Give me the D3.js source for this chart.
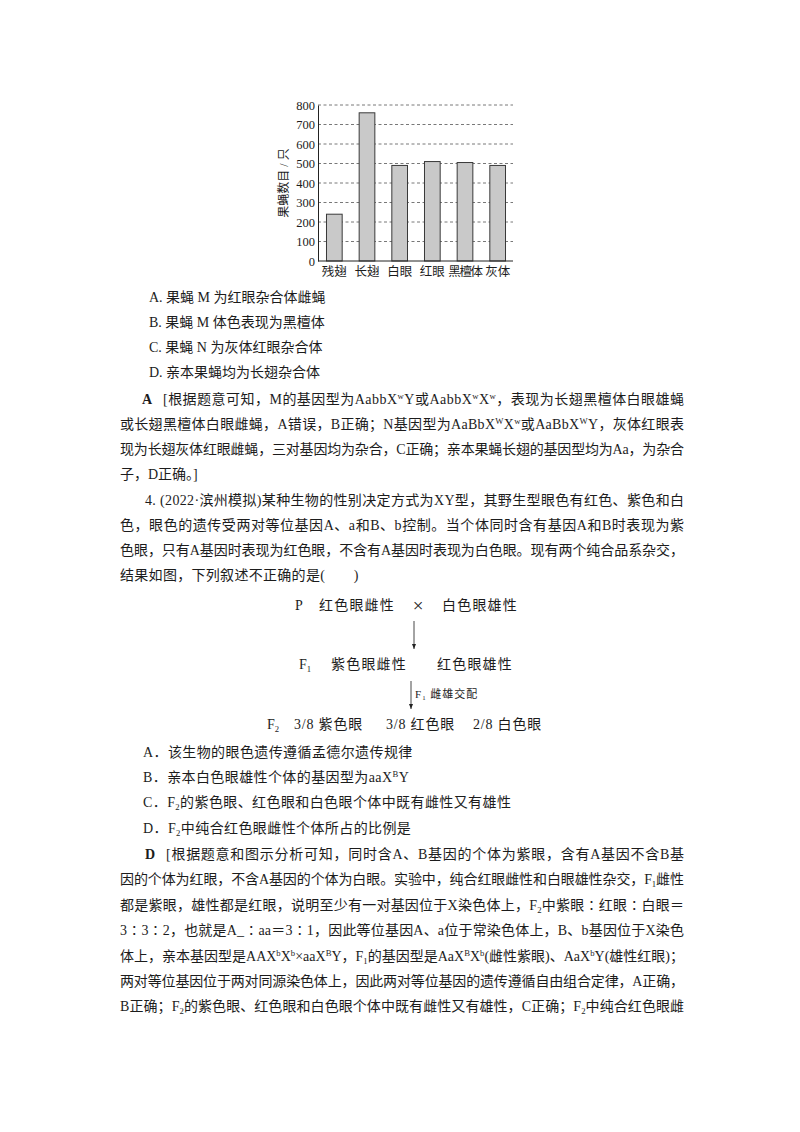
<!DOCTYPE html>
<html><head><meta charset="utf-8">
<script src="https://cdn.jsdelivr.net/npm/d3@7"></script>
<style>html,body{margin:0;padding:0;background:#fff}</style>
</head><body>
<svg id="page" width="800" height="1132"></svg>
<script>
// ---------- chart data ----------
const categories = ["残翅","长翅","白眼","红眼","黑檀体","灰体"];
const counts = [240, 760, 490, 510, 505, 490];
const yTicks = [0,100,200,300,400,500,600,700,800];
const yTitle = "果蝇数目 / 只";

// ---------- page text (markup: ^{sup} _{sub} **bold**) ----------
const optionsQ3 = [
  "A.  果蝇 M 为红眼杂合体雌蝇",
  "B. 果蝇 M 体色表现为黑檀体",
  "C.  果蝇 N 为灰体红眼杂合体",
  "D.  亲本果蝇均为长翅杂合体"
];
const answerQ3 = [
  "[根据题意可知，M的基因型为AabbX^{w}Y或AabbX^{w}X^{w}，表现为长翅黑檀体白眼雄蝇",
  "或长翅黑檀体白眼雌蝇，A错误，B正确；N基因型为AaBbX^{W}X^{w}或AaBbX^{W}Y，灰体红眼表",
  "现为长翅灰体红眼雌蝇，三对基因均为杂合，C正确；亲本果蝇长翅的基因型均为Aa，为杂合",
  "子，D正确。]"
];
const questionQ4 = [
  "4. (2022·滨州模拟)某种生物的性别决定方式为XY型，其野生型眼色有红色、紫色和白",
  "色，眼色的遗传受两对等位基因A、a和B、b控制。当个体同时含有基因A和B时表现为紫",
  "色眼，只有A基因时表现为红色眼，不含有A基因时表现为白色眼。现有两个纯合品系杂交，",
  "结果如图，下列叙述不正确的是(　　)"
];
const optionsQ4 = [
  "A．该生物的眼色遗传遵循孟德尔遗传规律",
  "B．亲本白色眼雄性个体的基因型为aaX^{B}Y",
  "C．F_{2}的紫色眼、红色眼和白色眼个体中既有雌性又有雄性",
  "D．F_{2}中纯合红色眼雌性个体所占的比例是"
];
const answerQ4 = [
  "[根据题意和图示分析可知，同时含A、B基因的个体为紫眼，含有A基因不含B基",
  "因的个体为红眼，不含A基因的个体为白眼。实验中，纯合红眼雌性和白眼雄性杂交，F_{1}雌性",
  "都是紫眼，雄性都是红眼，说明至少有一对基因位于X染色体上，F_{2}中紫眼∶红眼∶白眼＝",
  "3∶3∶2，也就是A_∶aa＝3∶1，因此等位基因A、a位于常染色体上，B、b基因位于X染色",
  "体上，亲本基因型是AAX^{b}X^{b}×aaX^{B}Y，F_{1}的基因型是AaX^{B}X^{b}(雌性紫眼)、AaX^{b}Y(雄性红眼)；",
  "两对等位基因位于两对同源染色体上，因此两对等位基因的遗传遵循自由组合定律，A正确，",
  "B正确；F_{2}的紫色眼、红色眼和白色眼个体中既有雌性又有雄性，C正确；F_{2}中纯合红色眼雌"
];
const crossP = ["P", "红色眼雌性", "×", "白色眼雄性"];
const crossF1 = ["F_{1}", "紫色眼雌性", "红色眼雄性"];
const crossLabel = "F_{1}  雌雄交配";
const crossF2 = ["F_{2}", "3/8 紫色眼", "3/8 红色眼", "2/8 白色眼"];

// ---------- drawing ----------
const svg = d3.select("#page");
svg.append("rect").attr("width",800).attr("height",1132).attr("fill","#fff");
const FONT = "'Liberation Serif','Times New Roman','Noto Sans CJK SC',serif";
const INK = "#1c1c1c";

// chart
const x = d3.scaleBand().domain(categories).range([318, 514]).paddingInner(0.52).paddingOuter(0.26);
const y = d3.scaleLinear().domain([0, 800]).range([261, 105]);
const g = svg.append("g");

g.append("g").selectAll("line").data(yTicks.filter(d => d > 0)).join("line")
  .attr("x1", 318).attr("x2", 513)
  .attr("y1", d => y(d)).attr("y2", d => y(d))
  .attr("stroke", "#555").attr("stroke-width", 0.8).attr("stroke-dasharray", "3,2.5");

g.append("g").selectAll("rect").data(counts).join("rect")
  .attr("x", (d,i) => x(categories[i]))
  .attr("width", x.bandwidth())
  .attr("y", d => y(d))
  .attr("height", d => y(0) - y(d))
  .attr("fill", "#c9c9c9").attr("stroke", "#3a3a3a").attr("stroke-width", 1);

const yAxis = g.append("g").attr("transform", "translate(318,0)")
  .call(d3.axisLeft(y).tickValues(yTicks).tickSize(0).tickPadding(3).tickFormat(d3.format("d")));
yAxis.attr("font-family", FONT).attr("font-size", 12.5);
yAxis.select(".domain").attr("stroke", "#222").attr("stroke-width", 1);
yAxis.selectAll("text").attr("fill", INK);

const xAxis = g.append("g").attr("transform", "translate(0,261)")
  .call(d3.axisBottom(x).tickSize(0).tickPadding(6));
xAxis.attr("font-family", FONT).attr("font-size", 12.5);
xAxis.select(".domain").attr("d", "M318,0H513").attr("stroke", "#222").attr("stroke-width", 1);
xAxis.selectAll("text").attr("fill", INK).attr("font-weight", 400).attr("dy", "0.75em");
xAxis.selectAll("text").filter(d => d === "黑檀体").attr("letter-spacing", -1.3);

g.append("text").attr("transform", "translate(288,183) rotate(-90)")
  .attr("text-anchor", "middle").attr("font-family", FONT).attr("font-size", 12)
  .attr("fill", INK).text(yTitle);

// text helpers
function addText(str, xPos, yPos, opts = {}) {
  const fs = opts.size || 14;
  const t = svg.append("text").attr("x", xPos).attr("y", yPos)
    .attr("font-family", FONT).attr("font-size", fs).attr("fill", INK)
    .attr("font-weight", opts.weight || 400);
  if (opts.anchor) t.attr("text-anchor", opts.anchor);
  const parts = str.split(/(\^\{[^}]*\}|_\{[^}]*\}|\*\*[^*]*\*\*)/).filter(s => s.length);
  let cur = 0, nChars = 0;
  parts.forEach(p => {
    let txt = p, off = 0, size = null, bold = false;
    if (p.startsWith("^{")) { txt = p.slice(2, -1); off = -fs * 0.38; size = fs * 0.62; }
    else if (p.startsWith("_{")) { txt = p.slice(2, -1); off = fs * 0.22; size = fs * 0.62; }
    else if (p.startsWith("**")) { txt = p.slice(2, -2); bold = true; }
    const ts = t.append("tspan").attr("dy", off - cur).text(txt);
    if (size) ts.attr("font-size", size);
    if (bold) ts.attr("font-weight", "bold");
    cur = off; nChars += [...txt].length;
  });
  if (opts.right) {
    const w = t.node().getComputedTextLength();
    const ls = (opts.right - xPos - w) / Math.max(1, nChars - 1);
    t.attr("letter-spacing", ls);
  } else if (opts.ls) {
    t.attr("letter-spacing", opts.ls);
  }
  return t;
}

const R = 684;
// Q3 options
optionsQ3.forEach((s, i) => addText(s, 149, [302, 327, 352, 377][i]));
// Q3 answer
addText("**A**", 142, 404, {weight: 700});
answerQ3.forEach((s, i) => {
  const yy = [404, 429, 454, 479][i];
  const x0 = i === 0 ? 163 : 120;
  addText(s, x0, yy, i < 3 ? {right: R} : {});
});
// Q4 stem
questionQ4.forEach((s, i) => {
  const yy = [505, 530, 555, 580][i];
  const x0 = i === 0 ? 145 : 120;
  addText(s, x0, yy, i < 3 ? {right: R} : {ls: 0.3});
});

// cross diagram
addText(crossP[0], 295, 610, {size: 14});
addText(crossP[1], 319, 610, {size: 14, ls: 1.2});
addText(crossP[2], 418, 612, {size: 19, anchor: "middle", weight: 300});
addText(crossP[3], 442, 610, {size: 14, ls: 1.2});

svg.append("defs").append("marker").attr("id", "ah").attr("viewBox", "0 0 10 10")
  .attr("refX", 10).attr("refY", 5).attr("markerWidth", 6).attr("markerHeight", 6)
  .attr("orient", "auto").append("path").attr("d", "M0,1L10,5L0,9Z").attr("fill", "#222");
svg.append("line").attr("x1", 414).attr("x2", 414).attr("y1", 621).attr("y2", 649)
  .attr("stroke", "#333").attr("stroke-width", 0.9).attr("marker-end", "url(#ah)");

addText(crossF1[0], 299, 669, {size: 14});
addText(crossF1[1], 331, 669, {size: 14, ls: 1.2});
addText(crossF1[2], 437, 669, {size: 14, ls: 1.2});

svg.append("line").attr("x1", 411).attr("x2", 411).attr("y1", 681).attr("y2", 709)
  .attr("stroke", "#333").attr("stroke-width", 0.9).attr("marker-end", "url(#ah)");
addText(crossLabel, 415, 698, {size: 11, ls: 1});

addText(crossF2[0], 267, 729, {size: 14});
addText(crossF2[1], 294, 729, {size: 14, ls: 0.8});
addText(crossF2[2], 386, 729, {size: 14, ls: 0.8});
addText(crossF2[3], 473, 729, {size: 14, ls: 0.8});

// Q4 options
optionsQ4.forEach((s, i) => addText(s, 143, [757, 782, 807, 833][i], {ls: 0.4}));

// Q4 answer
addText("**D**", 145, 859, {weight: 700});
answerQ4.forEach((s, i) => {
  const yy = [859, 884, 910, 935, 961, 986, 1011][i];
  const x0 = i === 0 ? 166 : 120;
  addText(s, x0, yy, {right: R});
});
</script>
</body></html>
